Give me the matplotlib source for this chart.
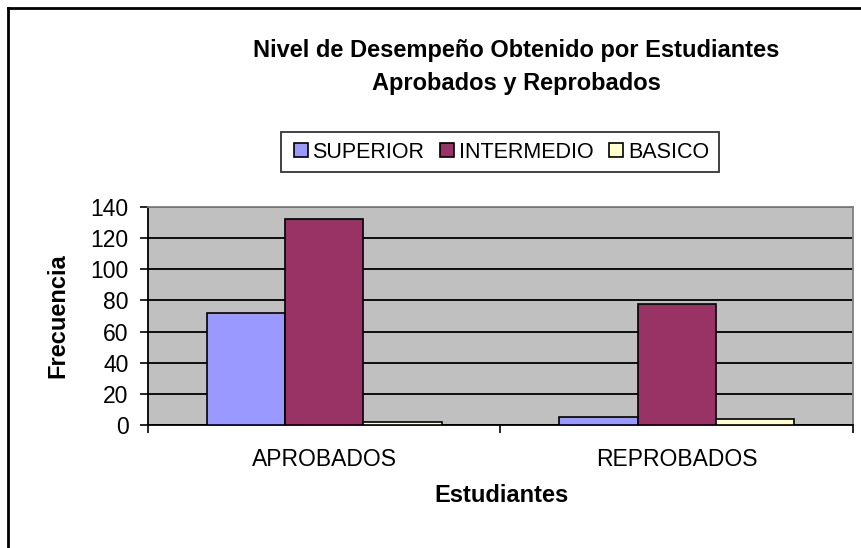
import matplotlib
matplotlib.use("Agg")
import matplotlib.pyplot as plt
import numpy as np
from matplotlib.lines import Line2D

plt.rcParams['font.family'] = ['Liberation Sans', 'DejaVu Sans']

categories = ["APROBADOS", "REPROBADOS"]
series_names = ["SUPERIOR", "INTERMEDIO", "BASICO"]
superior = [72, 5]
intermedio = [132, 78]
basico = [2, 4]
colors = ["#9999FF", "#993366", "#FFFFCC"]
yticks = [0, 20, 40, 60, 80, 100, 120, 140]

W, H = 862, 548
fig = plt.figure(figsize=(W/100, H/100), dpi=100)
ax = fig.add_axes([148/W, 1-425/H, (853-148)/W, (425-207)/H])
ax.set_facecolor("#C0C0C0")

x = np.arange(len(categories))
w = 0.2222
for i, (vals, c, name) in enumerate(zip([superior, intermedio, basico], colors, series_names)):
    ax.bar(x + (i-1)*w, vals, width=w, color=c, edgecolor="black", linewidth=1.2,
           label=name, zorder=3)

ax.set_xlim(-0.5, 1.5)
ax.set_ylim(0, 140)
ax.set_yticks(yticks)
ax.yaxis.grid(True, color="black", linewidth=1.3, zorder=1)
ax.set_axisbelow(True)
ax.tick_params(axis='y', direction='out', length=6, width=1.2, labelsize=16.5, pad=8)
ax.set_xticks([-0.5, 0.5, 1.5])
ax.set_xticklabels(["", "", ""])
ax.tick_params(axis='x', direction='out', length=6, width=1.2)

for xi, cat in zip(x, categories):
    ax.text(xi, (425-459)/218, cat, transform=ax.get_xaxis_transform(),
            ha="center", va="center", fontsize=16.5)

for s in ["left", "bottom"]:
    ax.spines[s].set_color("black")
    ax.spines[s].set_linewidth(1.3)
for s in ["top", "right"]:
    ax.spines[s].set_color("#808080")
    ax.spines[s].set_linewidth(1.3)

fig.text(58/W, 1-316/H, "Frecuencia", rotation=90, ha="center", va="center",
         fontsize=17, fontweight="bold")
fig.text(502/W, 1-495/H, "Estudiantes", ha="center", va="center",
         fontsize=17, fontweight="bold")

fig.text(516/W, 1-50/H, "Nivel de Desempeño Obtenido por Estudiantes",
         ha="center", va="center", fontsize=17, fontweight="bold")
fig.text(516/W, 1-83/H, "Aprobados y Reprobados",
         ha="center", va="center", fontsize=17, fontweight="bold")

handles = [Line2D([0], [0], marker='s', linestyle='none', markersize=10,
                  markerfacecolor=c, markeredgecolor='black', markeredgewidth=1.2)
           for c in colors]
leg = fig.legend(handles, series_names, loc="center", bbox_to_anchor=(500/W, 1-152/H),
                 ncol=3, frameon=True, fancybox=False, fontsize=15.5,
                 handletextpad=0.1, columnspacing=0.6, borderpad=0.45, handlelength=0.9)
leg.get_frame().set_edgecolor("black")
leg.get_frame().set_linewidth(1.3)

# outer chart border (top and left visible)
fig.add_artist(Line2D([8/W, 1], [1-8/H, 1-8/H], color="black", linewidth=2, transform=fig.transFigure))
fig.add_artist(Line2D([8/W, 8/W], [0, 1-8/H], color="black", linewidth=2, transform=fig.transFigure))

fig.savefig("out.png", dpi=100)
